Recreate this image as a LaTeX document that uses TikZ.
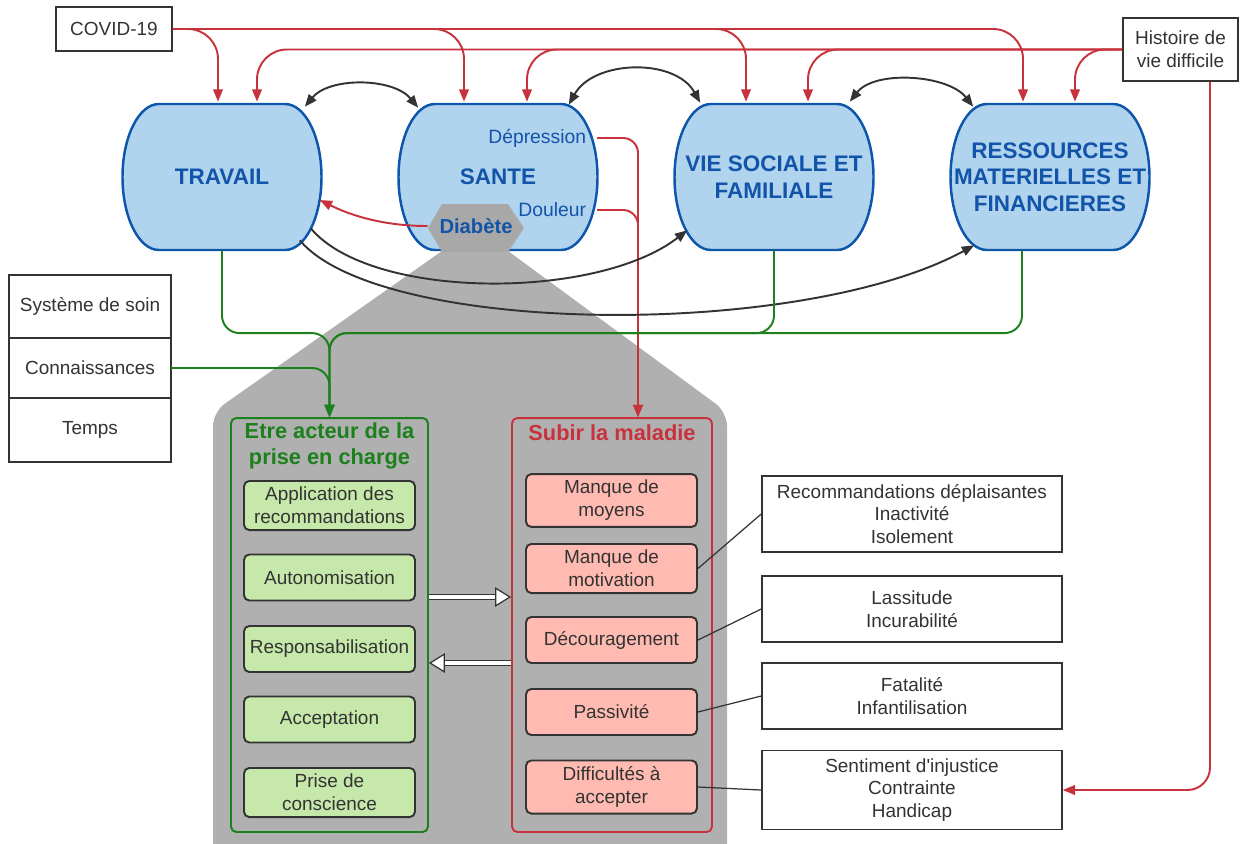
\documentclass[tikz,border=0pt]{standalone}
\usepackage{fontspec}
\setmainfont{Liberation Sans}
\usepackage{xcolor}
\usetikzlibrary{arrows.meta,calc,positioning}

\definecolor{poleblue}{RGB}{176,212,238}
\definecolor{poleedge}{RGB}{14,86,172}
\definecolor{poletext}{RGB}{18,84,170}
\definecolor{crimson}{RGB}{200,50,60}
\definecolor{forest}{RGB}{28,128,28}
\definecolor{greytone}{RGB}{176,176,176}
\definecolor{hexgrey}{RGB}{168,168,168}
\definecolor{leaf}{RGB}{198,232,170}
\definecolor{salmon}{RGB}{255,187,177}
\definecolor{ink}{RGB}{51,51,51}

% barrel shaped domain (flat top, half ellipse sides): name, x, y, label
\newcommand{\pole}[4]{%
  \draw[poleline] (#2-63,#3-73) -- (#2+63,#3-73)
    .. controls (#2+83.2,#3-73) and (#2+99.5,#3-40.3) .. (#2+99.5,#3)
    .. controls (#2+99.5,#3+40.3) and (#2+83.2,#3+73) .. (#2+63,#3+73)
    -- (#2-63,#3+73)
    .. controls (#2-83.2,#3+73) and (#2-99.5,#3+40.3) .. (#2-99.5,#3)
    .. controls (#2-99.5,#3-40.3) and (#2-83.2,#3-73) .. cycle;
  \node[pole] (#1) at (#2,#3) {#4};}

\begin{document}
\begin{tikzpicture}[x=0.02cm, y=-0.02cm,
  pole/.style={minimum width=3.98cm, minimum height=2.92cm, inner sep=0pt, align=center, text=poletext, font=\fontsize{12.8}{15}\selectfont\bfseries},
  poleline/.style={draw=poleedge, fill=poleblue, line width=1.4pt},
  box/.style={draw=ink, line width=1.1pt, text=ink, align=center, inner xsep=2pt, inner ysep=3.5pt, font=\fontsize{10.8}{13}\selectfont},
  stackbox/.style={box, outer sep=0pt, minimum width=3.24cm},
  greenbox/.style={box, fill=leaf, rounded corners=3pt, minimum width=3.42cm, minimum height=0.92cm},
  pinkbox/.style={box, fill=salmon, rounded corners=3pt, minimum width=3.42cm, minimum height=0.92cm},
  notebox/.style={box, line width=0.9pt, inner ysep=4.5pt, minimum width=6cm, minimum height=1.32cm},
  frame/.style={line width=1.1pt, rounded corners=3pt, inner sep=0pt, minimum height=8.28cm},
  heading/.style={align=center, inner sep=0pt, font=\fontsize{12.4}{14.7}\selectfont\bfseries},
  small/.style={anchor=east, inner xsep=6pt, inner ysep=0pt, text=poletext, font=\fontsize{11}{13}\selectfont},
  redarrow/.style={draw=crimson, line width=1.1pt, rounded corners=0.6cm, -{Triangle[length=7pt, width=5.5pt]}},
  greenarrow/.style={draw=forest, line width=1.1pt, rounded corners=0.35cm, -{Triangle[length=7pt, width=5.5pt]}},
  blackarrow/.style={draw=ink, line width=1.1pt, -{Triangle[length=7pt, width=5.5pt]}},
  bothways/.style={blackarrow, {Triangle[length=7pt, width=5.5pt]}-{Triangle[length=7pt, width=5.5pt]}},
  link/.style={draw=ink, line width=0.7pt},
  hollow/.style={draw=ink, line width=0.7pt, double=white, double distance=2pt, -{Triangle[open, fill=white, length=9pt, width=11pt]}}]

  \useasboundingbox (0,0) rectangle (1241,843);

  % grey funnel under the diabetes
  \fill[greytone] (442,251) -- (508,251) [rounded corners=8pt] -- (727,412) -- (727,870)
    -- (213,870) -- (213,412) [sharp corners] -- cycle;

  % the four domains
  \pole{travail}{222}{177}{TRAVAIL}
  \pole{sante}{498}{177}{SANTE}
  \pole{vie}{774}{177}{VIE SOCIALE ET\\FAMILIALE}
  \pole{ress}{1050}{177}{RESSOURCES\\MATERIELLES ET\\FINANCIERES}

  % Diabete hexagon
  \fill[hexgrey] (428,228) -- (442,204) -- (508,204) -- (524,228) -- (508,252) -- (442,252) -- cycle;
  \node[minimum width=1.92cm, inner sep=0pt, text=poletext, font=\fontsize{11.5}{14}\selectfont\bfseries] (diab) at (476,226) {Diabète};
  \node[small] (depression) at (597,138) {Dépression};
  \node[small] (douleur) at (597,210) {Douleur};

  % outside factors
  \node[box, minimum width=2.32cm, minimum height=0.88cm] (covid) at (114,29) {COVID-19};
  \node[box, minimum width=2.3cm, minimum height=1.26cm] (hist) at (1180.5,49.5) {Histoire de\\vie difficile};

  \node[stackbox, minimum height=1.26cm] (soin) at (90,306.5) {Système de soin};
  \node[stackbox, minimum height=1.2cm, below=0pt of soin] (conn) {Connaissances};
  \node[stackbox, minimum height=1.28cm, below=0pt of conn] (temps) {Temps};

  % two ways of living the disease
  \node[frame, draw=forest, minimum width=3.94cm] (acteur) at (329.5,625) {};
  \node[frame, draw=crimson, minimum width=4cm] (subir) at (612,625) {};
  \node[heading, text=forest] (acteurtitle) at ($(acteur.north)+(0,29)$) {Etre acteur de la\\prise en charge};
  \node[heading, text=crimson] (subirtitle) at ($(subir.north)+(0,16)$) {Subir la maladie};

  \node[greenbox] (application) at (329.5,505.5) {Application des\\recommandations};
  \node[greenbox] (autonomie) at (329.5,577.5) {Autonomisation};
  \node[greenbox] (responsable) at (329.5,649) {Responsabilisation};
  \node[greenbox] (acceptation) at (329.5,719.5) {Acceptation};
  \node[greenbox] (conscience) at (329.5,792.5) {Prise de\\conscience};

  \node[pinkbox] (moyens) at (611.5,500.5) {Manque de\\moyens};
  \node[pinkbox] (motivation) at (611.5,568.5) {Manque de\\motivation};
  \node[pinkbox] (decouragement) at (611.5,640) {Découragement};
  \node[pinkbox] (passivite) at (611.5,712) {Passivité};
  \node[pinkbox] (difficulte) at (611.5,787) {Difficultés à\\accepter};

  \node[notebox] (reco) at (912,514) {Recommandations déplaisantes\\Inactivité\\Isolement};
  \node[notebox] (lassitude) at (912,609) {Lassitude\\Incurabilité};
  \node[notebox] (fatalite) at (912,696) {Fatalité\\Infantilisation};
  \node[notebox] (injustice) at (912,790) {Sentiment d\textquotesingle injustice\\Contrainte\\Handicap};

  % red influences from the top
  \foreach \target/\dx in {travail/-4, sante/-34, vie/-28, ress/-27}
    \draw[redarrow] (covid.east) -| ($(\target.north)+(\dx,-2)$);
  \foreach \target/\dx in {travail/35, sante/29, vie/34, ress/25}
    \draw[redarrow] (hist.west) -| ($(\target.north)+(\dx,-2)$);
  \draw[redarrow, rounded corners=0.45cm] ($(hist.south)+(29.5,0)$) |- (injustice.east);
  \draw[redarrow] (diab.west) .. controls +(-45,0) and +(30,15) .. ($(travail.east)+(-2,23)$);
  \draw[redarrow, rounded corners=0.3cm] (depression.east) -| ($(subir.north)+(26,0)$);
  \draw[redarrow, rounded corners=0.3cm] (douleur.east) -| ($(subir.north)+(26,0)$);

  % links between domains
  \draw[bothways] ($(travail.north east)+(-17,3)$) .. controls +(25,-30) and +(-25,-30) .. ($(sante.north west)+(20,4)$);
  \draw[bothways] ($(sante.north east)+(-29,1)$) .. controls +(25,-45) and +(-25,-45) .. ($(vie.north west)+(26,-1)$);
  \draw[bothways] ($(vie.north east)+(-24,-2)$) .. controls +(25,-32) and +(-25,-32) .. ($(ress.north west)+(23,3)$);
  \draw[blackarrow] ($(travail.south east)+(-11,-22)$) .. controls +(60,72) and +(-90,70) .. ($(vie.south west)+(13,-20)$);
  \draw[blackarrow] ($(travail.south east)+(-22,-10)$) .. controls +(80,95) and +(-175,95) .. ($(ress.south west)+(24,-5)$);

  % green resources
  \coordinate (merge) at ($(acteur.north)+(0,-84)$);
  \draw[greenarrow] (travail.south) |- (merge) -- (acteur.north);
  \draw[greenarrow] (vie.south) |- (merge) -- (acteur.north);
  \draw[greenarrow] ($(ress.south)+(-28,0)$) |- (merge) -- (acteur.north);
  \draw[greenarrow] (conn.east) -| (acteur.north);

  % switching between the two
  \draw[hollow] ($(acteur.east)+(0,-28)$) -- ($(subir.west)+(0,-28)$);
  \draw[hollow] ($(subir.west)+(0,38)$) -- ($(acteur.east)+(0,38)$);

  % causes
  \draw[link] (motivation.east) -- (reco.west);
  \draw[link] (decouragement.east) -- (lassitude.west);
  \draw[link] (passivite.east) -- (fatalite.west);
  \draw[link] (difficulte.east) -- (injustice.west);
\end{tikzpicture}
\end{document}
